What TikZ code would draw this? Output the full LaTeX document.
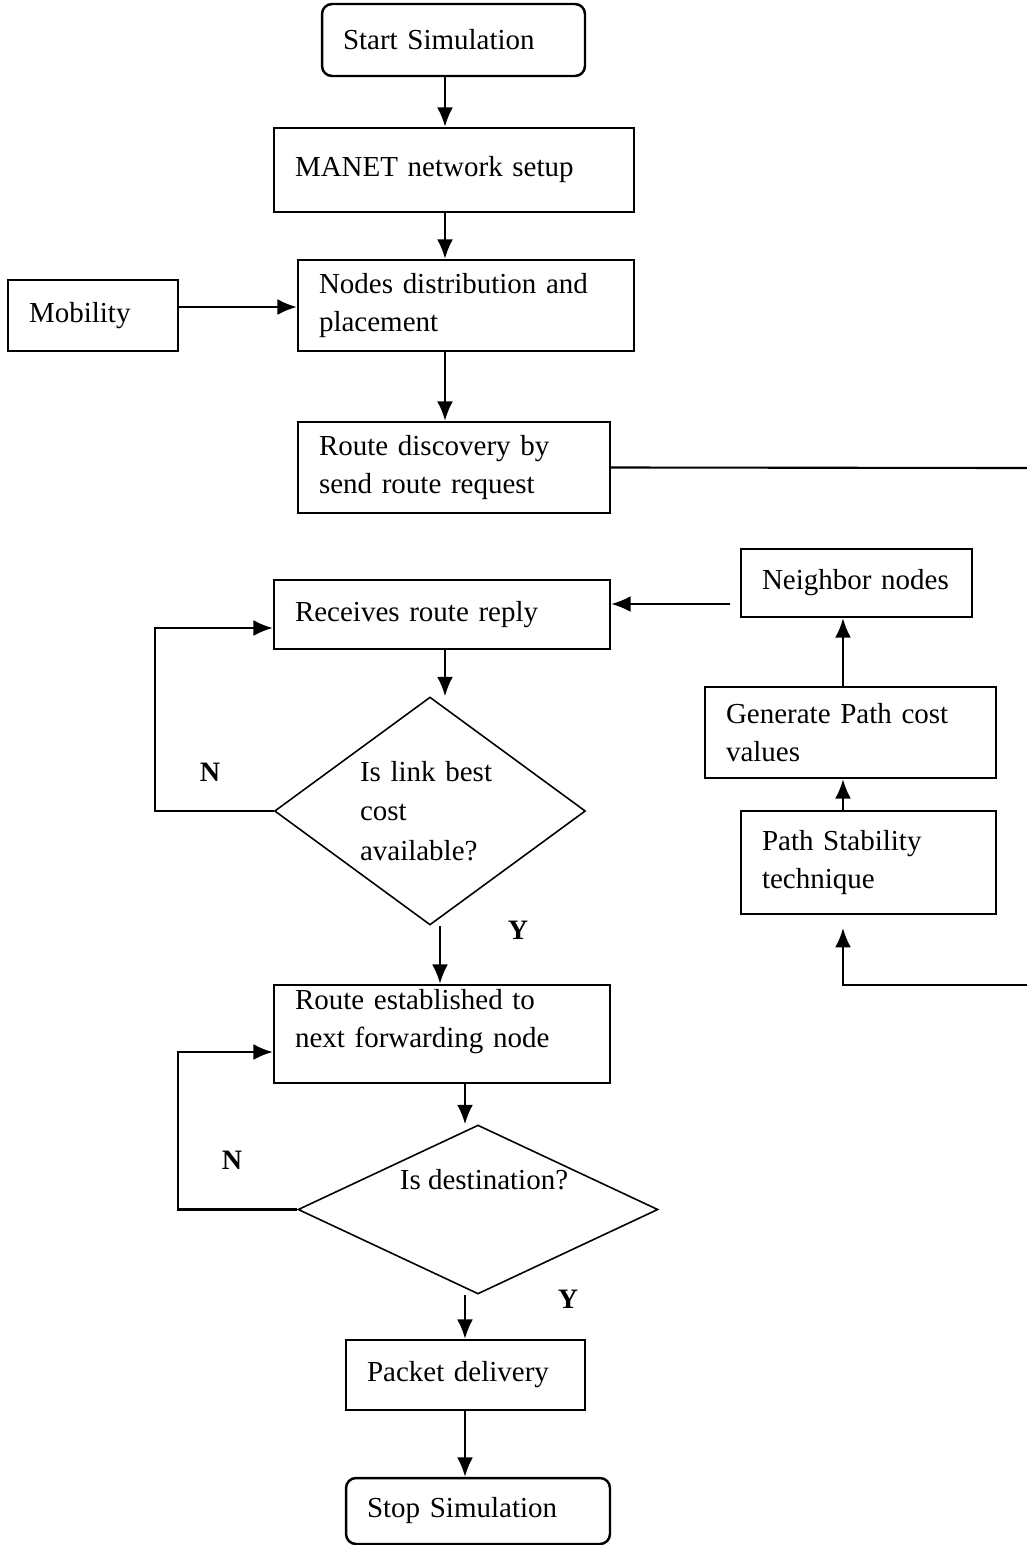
\documentclass[tikz,border=0pt]{standalone}
\usepackage{fontspec}
\setmainfont{Liberation Serif}
\usetikzlibrary{shapes.geometric,arrows.meta}

\tikzstyle{box}=[draw, line width=1.4pt, align=left, inner xsep=0.42cm, inner ysep=0pt]
\tikzstyle{term}=[box, rounded corners=0.2cm]
\tikzstyle{decision}=[draw, diamond, line width=0.9pt, align=left, inner sep=0pt, aspect=1.36]
\tikzstyle{flow}=[->, line width=1.2pt]
\tikzstyle{yn}=[font=\fontsize{16}{19}\selectfont\bfseries]

\begin{document}
\begin{tikzpicture}[>={Latex[length=11pt,width=9pt]}, x=0.02cm, y=-0.02cm, font=\fontsize{16.5}{21.5}\selectfont]
    \useasboundingbox (0,0) rectangle (1027,1545);

    % main column
    \node[term, text width=4.42cm, minimum height=1.44cm] (start) at (453.5,40) {Start Simulation};
    \node[box, text width=6.36cm, minimum height=1.68cm] (manet) at (454,170) {MANET network setup};
    \node[box, text width=5.88cm, minimum height=1.82cm] (place) at (466,305.5) {Nodes distribution and\\placement};
    \node[box, text width=2.56cm, minimum height=1.42cm] (mob) at (93,315.5) {Mobility};
    \node[box, text width=5.40cm, minimum height=1.82cm] (disc) at (454,467.5) {Route discovery by\\send route request};
    \node[box, text width=5.88cm, minimum height=1.38cm] (reply) at (442,614.5) {Receives route reply};
    \node[decision, text width=2.8cm, minimum width=6.22cm, minimum height=4.56cm] (linkq) at (430,811) {Is link best\\[1pt]cost\\[1pt]available?};
    \node[box, text width=5.88cm, minimum height=1.96cm, text depth=1.38cm] (est) at (442,1034) {Route established to\\next forwarding node};
    \node[decision, minimum width=7.2cm, minimum height=3.38cm] (destq) at (478,1209.5) {};
    \node (desttxt) at (484,1180) {Is destination?};
    \node[box, text width=3.94cm, minimum height=1.40cm] (deliv) at (465.5,1375) {Packet delivery};
    \node[term, text width=4.44cm, minimum height=1.32cm] (stop) at (478,1511) {Stop Simulation};

    % right column
    \node[box, text width=3.78cm, minimum height=1.36cm] (neigh) at (856.5,583) {Neighbor nodes};
    \node[box, text width=4.98cm, minimum height=1.82cm] (gen) at (850.5,732.5) {Generate Path cost\\values};
    \node[box, text width=4.26cm, minimum height=2.06cm] (stab) at (868.5,862.5) {Path Stability\\technique};

    % yes / no labels
    \node[yn] (no1) at (210,772) {N};
    \node[yn] (yes1) at (518,930) {Y};
    \node[yn] (no2) at (232,1160) {N};
    \node[yn] (yes2) at (568,1299) {Y};

    \coordinate (c1) at (445,0);
    \coordinate (c2) at (440,0);
    \coordinate (c3) at (465,0);
    \coordinate (c4) at (843,0);
    \coordinate (mobrow) at (0,307);
    \coordinate (nloop1) at (155,628);
    \coordinate (nloop2) at (178,1052);
    \coordinate (nbout) at (730,604);
    \coordinate (rout) at (1027,468);
    \coordinate (rin) at (1027,985);
    \coordinate (stabin) at (843,928);

    \draw[flow] (start.south -| c1) -- (manet.north -| c1);
    \draw[flow] (manet.south -| c1) -- (place.north -| c1);
    \draw[flow] (mob.east |- mobrow) -- (place.west |- mobrow);
    \draw[flow] (place.south -| c1) -- (disc.north -| c1);
    \draw[line width=1.2pt] (disc.east) -- (rout);
    \draw[flow] (nbout) -- (reply.east |- nbout);
    \draw[flow] (reply.south -| c1) -- (linkq.north -| c1);
    \draw[flow] (linkq.west) -| (nloop1) -- (reply.west |- nloop1);
    \draw[flow] (linkq.south -| c2) -- (est.north -| c2);
    \draw[flow] (est.south -| c3) -- (destq.north -| c3);
    \draw[flow] (destq.west) -| (nloop2) -- (est.west |- nloop2);
    \draw[flow] (destq.south -| c3) -- (deliv.north -| c3);
    \draw[flow] (deliv.south -| c3) -- (stop.north -| c3);

    \draw[flow] (gen.north -| c4) -- (neigh.south -| c4);
    \draw[flow] (stab.north -| c4) -- (gen.south -| c4);
    \draw[flow] (rin) -| (stabin);
\end{tikzpicture}
\end{document}
